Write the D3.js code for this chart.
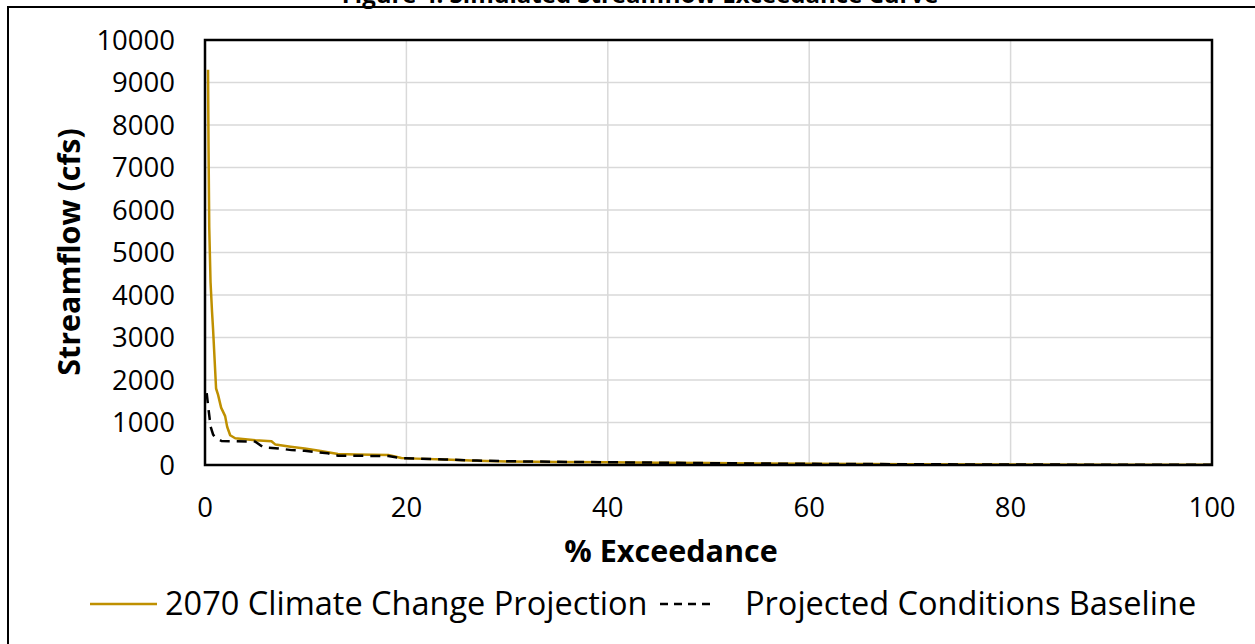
<!DOCTYPE html>
<html lang="en">
<head>
    <meta charset="UTF-8">
    <title>Streamflow Exceedance Curve</title>
    <script src="https://d3js.org/d3.v7.min.js"></script>
    <style>
        body { margin: 0; background: #fff; }
        svg { display: block; font-family: "Open Sans", Lato, sans-serif; }
        .tick-label { font-size: 27.5px; fill: #000; }
        .axis-title { font-size: 30.5px; font-weight: bold; fill: #000; }
        .legend-label { font-size: 32.5px; fill: #000; }
        .grid { stroke: #d9d9d9; stroke-width: 1.5px; }
    </style>
</head>
<body>
    <div id="chart"></div>

    <script>
        // data: % exceedance vs streamflow (cfs)
        const climatePct  = [0.3, 0.35, 0.42, 0.55, 0.7, 0.8, 1.1, 1.3, 1.6, 2.0, 2.2, 2.5, 3.0, 5.0, 6.6, 7.0, 8.5, 9.9, 11.5, 13.2, 15, 18.2, 19.5, 21, 23.8, 27, 30, 35, 40, 45, 50, 55, 60, 70, 80, 90, 100];
        const climateFlow = [9300, 7500, 5600, 4300, 3600, 3200, 1800, 1650, 1350, 1150, 900, 700, 630, 580, 560, 480, 430, 390, 330, 260, 245, 235, 165, 150, 130, 100, 85, 72, 63, 55, 45, 36, 28, 19, 12, 8, 4];

        const baselinePct  = [0.17, 0.33, 0.56, 0.8, 1.0, 1.65, 5.0, 5.8, 7.3, 8.6, 9.9, 12.2, 13.2, 18.2, 19.5, 23.8, 27, 30, 35, 40, 45, 50, 55, 60, 70, 80, 90, 100];
        const baselineFlow = [1690, 1350, 900, 720, 650, 565, 550, 415, 390, 350, 335, 275, 220, 210, 160, 130, 105, 90, 75, 65, 55, 44, 35, 27, 18, 11, 7, 3];

        const yTicks = [0, 1000, 2000, 3000, 4000, 5000, 6000, 7000, 8000, 9000, 10000];
        const xTicks = [0, 20, 40, 60, 80, 100];

        const seriesNames = ["2070 Climate Change Projection", "Projected Conditions Baseline"];
        const titleText = "Figure 4. Simulated Streamflow Exceedance Curve";

        const width = 1255, height = 644;
        const plot = { left: 205, right: 1212, top: 40, bottom: 465 };
        const gold = "#bf9000";

        const svg = d3.select("#chart").append("svg")
            .attr("width", width)
            .attr("height", height);

        const x = d3.scaleLinear().domain([0, 100]).range([plot.left, plot.right]);
        const y = d3.scaleLinear().domain([0, 10000]).range([plot.bottom, plot.top]);

        // title, cut off by the top of the picture as in the source
        svg.append("text")
            .attr("x", 640).attr("y", 3)
            .attr("text-anchor", "middle")
            .style("font-size", "24px").style("font-weight", "bold")
            .text(titleText);

        // outer chart frame (runs off the right and bottom)
        svg.append("rect")
            .attr("x", 8).attr("y", 7)
            .attr("width", 1300).attr("height", 700)
            .attr("fill", "none").attr("stroke", "#000").attr("stroke-width", 2);

        // gridlines
        svg.append("g").selectAll("line")
            .data(yTicks.slice(1, -1))
            .join("line")
            .attr("class", "grid")
            .attr("x1", plot.left).attr("x2", plot.right)
            .attr("y1", d => y(d)).attr("y2", d => y(d));

        svg.append("g").selectAll("line")
            .data(xTicks.slice(1, -1))
            .join("line")
            .attr("class", "grid")
            .attr("x1", d => x(d)).attr("x2", d => x(d))
            .attr("y1", plot.top).attr("y2", plot.bottom);

        // tick labels
        svg.append("g").selectAll("text")
            .data(yTicks)
            .join("text")
            .attr("class", "tick-label")
            .attr("x", 175)
            .attr("y", d => y(d))
            .attr("dy", "0.36em")
            .attr("text-anchor", "end")
            .text(d => d);

        svg.append("g").selectAll("text")
            .data(xTicks)
            .join("text")
            .attr("class", "tick-label")
            .attr("x", d => x(d))
            .attr("y", 517)
            .attr("text-anchor", "middle")
            .text(d => d);

        // axis titles
        svg.append("text")
            .attr("class", "axis-title")
            .attr("x", 671)
            .attr("y", 562)
            .attr("text-anchor", "middle")
            .text("% Exceedance");

        svg.append("text")
            .attr("class", "axis-title")
            .attr("transform", "translate(80,252) rotate(-90)")
            .attr("text-anchor", "middle")
            .text("Streamflow (cfs)");

        // series
        const line = d3.line()
            .x(d => x(d[0]))
            .y(d => y(d[1]));

        const climate = d3.zip(climatePct, climateFlow);
        const baseline = d3.zip(baselinePct, baselineFlow);

        svg.append("path")
            .datum(climate)
            .attr("d", line)
            .attr("fill", "none")
            .attr("stroke", gold)
            .attr("stroke-width", 2.5)
            .attr("stroke-linejoin", "round");

        svg.append("path")
            .datum(baseline)
            .attr("d", line)
            .attr("fill", "none")
            .attr("stroke", "#000")
            .attr("stroke-width", 2.5)
            .attr("stroke-dasharray", "10,7");

        // plot area border
        svg.append("rect")
            .attr("x", plot.left).attr("y", plot.top)
            .attr("width", plot.right - plot.left)
            .attr("height", plot.bottom - plot.top)
            .attr("fill", "none").attr("stroke", "#000").attr("stroke-width", 2.5);

        // legend
        const lg = svg.append("g");
        lg.append("line")
            .attr("x1", 90).attr("x2", 157).attr("y1", 604).attr("y2", 604)
            .attr("stroke", gold).attr("stroke-width", 2.5);
        lg.append("text")
            .attr("class", "legend-label")
            .attr("x", 165).attr("y", 615)
            .text(seriesNames[0]);
        lg.append("line")
            .attr("x1", 660).attr("x2", 712).attr("y1", 604).attr("y2", 604)
            .attr("stroke", "#000").attr("stroke-width", 2.5)
            .attr("stroke-dasharray", "8,6");
        lg.append("text")
            .attr("class", "legend-label")
            .attr("x", 745).attr("y", 615)
            .text(seriesNames[1]);
    </script>
</body>
</html>
